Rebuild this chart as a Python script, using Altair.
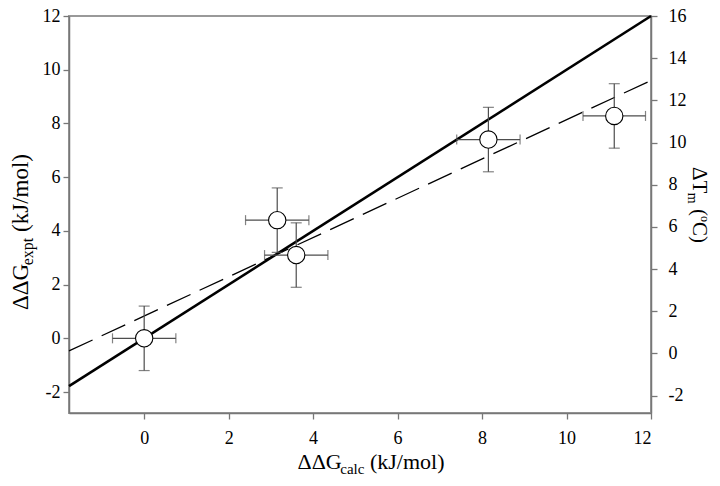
import altair as alt
import pandas as pd

# ---- data ----
calc = [0.0, 3.15, 3.60, 8.15, 11.13]      # ΔΔG_calc (kJ/mol)
expt = [0.0, 4.40, 3.10, 7.40, 8.28]       # ΔΔG_expt (kJ/mol)
calc_err = [0.75, 0.75, 0.75, 0.75, 0.74]
expt_err = [1.20, 1.20, 1.20, 1.20, 1.20]

solid_x = [-1.78, 12.0]
solid_y = [-1.78, 12.0]
dash_x = [-1.78, 12.0]
dash_y = [-0.47, 9.60]

x_ticks = [0, 2, 4, 6, 8, 10, 12]
y_ticks = [-2, 0, 2, 4, 6, 8, 10, 12]
tm_ticks = [-2, 0, 2, 4, 6, 8, 10, 12, 14, 16]

X_DOM = [-1.78, 12.0]
Y_DOM = [-2.78, 12.0]
TM_DOM = [-2.83, 16.0]

FONT = "Liberation Serif"
TOP = 8
W, H = 582, 397
AXC = "#777777"
LBL = "'' + datum.value"

df = pd.DataFrame({"calc": calc, "expt": expt, "cerr": calc_err, "eerr": expt_err})
df["xlo"] = df["calc"] - df["cerr"]
df["xhi"] = df["calc"] + df["cerr"]
df["ylo"] = df["expt"] - df["eerr"]
df["yhi"] = df["expt"] + df["eerr"]

xs = alt.Scale(domain=X_DOM, nice=False, zero=False)
ys = alt.Scale(domain=Y_DOM, nice=False, zero=False)
xaxis = alt.Axis(values=x_ticks, title=None, labelPadding=10, labelExpr=LBL, grid=False)
yaxis = alt.Axis(values=y_ticks, title=None, labelPadding=3, labelExpr=LBL, grid=False)

base = alt.Chart(df)

solid = alt.Chart(pd.DataFrame({"x": solid_x, "y": solid_y})).mark_line(
    color="black", strokeWidth=2.6
).encode(x=alt.X("x:Q", scale=xs, axis=xaxis), y=alt.Y("y:Q", scale=ys, axis=yaxis))

dashed = alt.Chart(pd.DataFrame({"x": dash_x, "y": dash_y})).mark_line(
    color="black", strokeWidth=1.3, strokeDash=[26, 10]
).encode(x=alt.X("x:Q", scale=xs), y=alt.Y("y:Q", scale=ys))

ebc = "#4d4d4d"
xbars = base.mark_rule(color=ebc, strokeWidth=1.2).encode(
    x=alt.X("xlo:Q", scale=xs), x2="xhi:Q", y=alt.Y("expt:Q", scale=ys))
ybars = base.mark_rule(color=ebc, strokeWidth=1.2).encode(
    x=alt.X("calc:Q", scale=xs), y=alt.Y("ylo:Q", scale=ys), y2="yhi:Q")
ycap_hi = base.mark_tick(orient="horizontal", size=11, thickness=1.2, color=ebc).encode(
    x=alt.X("calc:Q", scale=xs), y=alt.Y("yhi:Q", scale=ys))
ycap_lo = base.mark_tick(orient="horizontal", size=11, thickness=1.2, color=ebc).encode(
    x=alt.X("calc:Q", scale=xs), y=alt.Y("ylo:Q", scale=ys))
xcap_hi = base.mark_tick(orient="vertical", size=10, thickness=1.2, color=ebc).encode(
    x=alt.X("xhi:Q", scale=xs), y=alt.Y("expt:Q", scale=ys))
xcap_lo = base.mark_tick(orient="vertical", size=10, thickness=1.2, color=ebc).encode(
    x=alt.X("xlo:Q", scale=xs), y=alt.Y("expt:Q", scale=ys))

points = base.mark_point(shape="circle", size=300, filled=True, fill="white",
                         stroke="black", strokeWidth=1.1, opacity=1).encode(
    x=alt.X("calc:Q", scale=xs), y=alt.Y("expt:Q", scale=ys))

# ---- titles with sub/superscripts ----
CW = {"Δ": 612, "G": 722, " ": 250, "(": 333, ")": 333, "k": 500, "J": 389, "/": 278,
      "m": 778, "o": 500, "l": 278, "e": 444, "x": 500, "p": 500, "t": 278, "c": 444,
      "a": 444, "T": 611, "C": 667}


def tw(s, size):
    return sum(CW.get(ch, 500) for ch in s) / 1000.0 * size


one = pd.DataFrame({"k": [0]})


def piece(txt, x, y, size, angle=0):
    return alt.Chart(one).mark_text(
        text=txt, font=FONT, fontSize=size, color="black", align="left",
        baseline="alphabetic", angle=angle
    ).encode(x=alt.value(x), y=alt.value(y))


def layout(parts):
    """parts: (text, size, offset_across, gap_before)"""
    pos, out = 0.0, []
    for t, s, off, gap in parts:
        pos += gap
        out.append((t, s, off, pos))
        pos += tw(t, s)
    return out, pos


titles = []
# bottom title
BF, BS = 22, 15
items, total = layout([("ΔΔG", BF, 0, 0), ("calc", BS, 5, 0), ("(kJ/mol)", BF, 0, tw(" ", BF))])
cx, by = 302, 461 - TOP
for t, s, off, p in items:
    titles.append(piece(t, cx - total / 2 + p, by + off, s))

# left title (reads upward)
LF, LS = 23, 16
items, total = layout([("ΔΔG", LF, 0, 0), ("expt", LS, 5, 0), ("(kJ/mol)", LF, 0, tw(" ", LF))])
cy, bx = 224 - TOP, -41
for t, s, off, p in items:
    titles.append(piece(t, bx + off, cy + total / 2 - p, s, angle=270))

# right title (reads downward)
RF, RS = 21, 14
items, total = layout([("ΔT", RF, 0, 0), ("m", RS, -5, 0), ("(", RF, 0, tw(" ", RF)),
                       ("o", 12, 8, 0), ("C)", RF, 0, 0)])
cy, bx = 197 - TOP, 624
for t, s, off, p in items:
    titles.append(piece(t, bx + off, cy - total / 2 + p, s, angle=90))

main = alt.layer(solid, dashed, xbars, ybars, ycap_hi, ycap_lo, xcap_hi, xcap_lo,
                 points, *titles)

right = alt.Chart(pd.DataFrame({"tm": TM_DOM})).mark_point(opacity=0).encode(
    y=alt.Y("tm:Q", scale=alt.Scale(domain=TM_DOM, nice=False, zero=False),
            axis=alt.Axis(orient="right", values=tm_ticks, title=None,
                          labelPadding=11, labelExpr=LBL, grid=False)))

chart = alt.layer(main, right).resolve_scale(y="independent").properties(
    width=W, height=H,
    background="white",
    autosize=alt.AutoSizeParams(type="none"),
    padding={"left": 61, "top": TOP, "right": 61, "bottom": 65},
).configure_view(stroke="#999999", strokeWidth=2).configure_axis(
    grid=False, domainColor=AXC, domainWidth=1.5, tickColor=AXC, tickWidth=1.3,
    tickSize=6, labelFont=FONT, labelFontSize=18, labelColor="black",
)

chart.save("out.html", embed_options={"renderer": "svg", "actions": False})
